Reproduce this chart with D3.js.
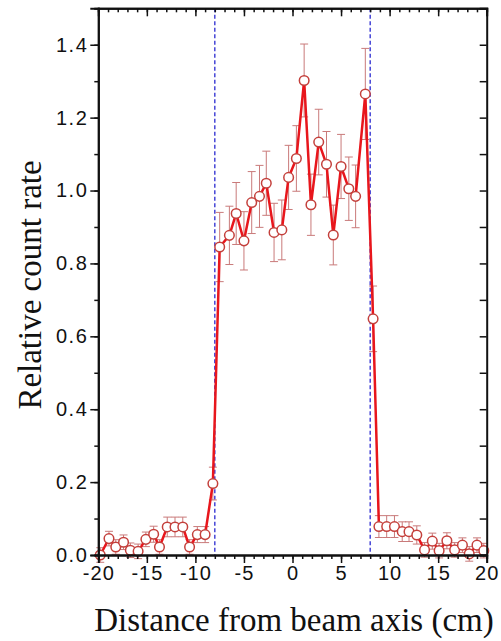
<!DOCTYPE html>
<html>
<head>
<meta charset="utf-8">
<script src="https://cdn.jsdelivr.net/npm/d3@7/dist/d3.min.js"></script>
<style>
    body { margin: 0; background: #fff; }
    svg text { font-family: "Liberation Sans", Arial, sans-serif; fill: #111; }
    .axis-title { font-family: "Liberation Serif", "Times New Roman", serif; font-size: 33px; }
    .tick-label { font-size: 20px; }
</style>
</head>
<body>
<div id="chart"></div>
<script>
// measured points: distance from beam axis (cm), relative count rate, error
const distance = [
    -19.8, -18.9, -18.2, -17.4, -16.7, -15.9, -15.1, -14.3, -13.7, -12.9, -12.1, -11.3, -10.6, -9.8, -9.0, -8.2,
    -7.5, -6.5, -5.8, -5.0, -4.2, -3.4, -2.7, -1.9, -1.1, -0.4, 0.4, 1.2, 1.9, 2.7, 3.5, 4.2, 5.0, 5.8, 6.5, 7.5, 8.3,
    8.9, 9.7, 10.5, 11.3, 12.0, 12.8, 13.6, 14.4, 15.1, 15.9, 16.7, 17.5, 18.2, 19.0, 19.7
];
const countRate = [
    0.000, 0.045, 0.022, 0.035, 0.013, 0.010, 0.043, 0.057, 0.022, 0.077, 0.077, 0.077, 0.022, 0.056, 0.056, 0.196,
    0.845, 0.877, 0.937, 0.862, 0.967, 0.984, 1.020, 0.885, 0.892, 1.036, 1.088, 1.302, 0.961, 1.133, 1.072, 0.878, 1.066, 1.005, 0.984, 1.265, 0.648,
    0.078, 0.078, 0.078, 0.064, 0.064, 0.055, 0.014, 0.038, 0.012, 0.039, 0.014, 0.027, 0.003, 0.027, 0.012
];
const rateError = [
    0.020, 0.020, 0.020, 0.020, 0.020, 0.020, 0.020, 0.022, 0.020, 0.027, 0.027, 0.027, 0.020, 0.022, 0.022, 0.045,
    0.095, 0.080, 0.085, 0.080, 0.085, 0.085, 0.088, 0.080, 0.082, 0.088, 0.090, 0.100, 0.084, 0.090, 0.090, 0.082, 0.088, 0.087, 0.086, 0.125, 0.090,
    0.030, 0.030, 0.030, 0.027, 0.027, 0.025, 0.020, 0.022, 0.020, 0.022, 0.020, 0.020, 0.020, 0.020, 0.020
];

// beam edges (dashed lines)
const beamEdges = [-8, 8];

// ticks
const xTicks = [-20, -15, -10, -5, 0, 5, 10, 15, 20];
const xMinorTicks = d3.range(-20, 20.5, 1);
const yTicks = [0, 0.2, 0.4, 0.6, 0.8, 1.0, 1.2, 1.4];
const yMinorTicks = d3.range(0, 1.51, 0.1);

const xTitle = "Distance from beam axis (cm)";
const yTitle = "Relative count rate";

let margin = {top: 8.3, left: 98.3, right: 14.3, bottom: 86},
    width = 501 - margin.left - margin.right,
    height = 641 - margin.top - margin.bottom;

let data = distance.map((d, i) => ({x: d, y: countRate[i], e: rateError[i]}));

let xScale = d3.scaleLinear().domain([-20, 20]).range([0, width]),
    yScale = d3.scaleLinear().domain([0, 1.5]).range([height, 0]);

let svg = d3.select('#chart')
    .append('svg')
    .attr('width', 501)
    .attr('height', 641);

let g = svg.append('g')
    .attr('transform', `translate(${margin.left},${margin.top})`);

// dashed beam edge lines
g.selectAll('.edge')
    .data(beamEdges)
    .enter()
    .append('line')
    .attr('x1', d => xScale(d))
    .attr('x2', d => xScale(d))
    .attr('y1', 0)
    .attr('y2', height)
    .attr('stroke', '#2a2ad0')
    .attr('stroke-width', 1.3)
    .attr('stroke-dasharray', '4,2.5');

// error bars
let errs = g.append('g')
    .attr('stroke', '#c97a7a')
    .attr('stroke-width', 1);

errs.selectAll('.ebar')
    .data(data)
    .enter()
    .append('line')
    .attr('x1', d => xScale(d.x))
    .attr('x2', d => xScale(d.x))
    .attr('y1', d => yScale(d.y - d.e))
    .attr('y2', d => yScale(d.y + d.e));

[1, -1].forEach(s => {
    errs.selectAll(null)
        .data(data)
        .enter()
        .append('line')
        .attr('x1', d => xScale(d.x) - 4)
        .attr('x2', d => xScale(d.x) + 4)
        .attr('y1', d => yScale(d.y + s * d.e))
        .attr('y2', d => yScale(d.y + s * d.e));
});

// the red line
g.append('path')
    .datum(data)
    .attr('fill', 'none')
    .attr('stroke', '#e8161c')
    .attr('stroke-width', 2.5)
    .attr('stroke-linejoin', 'round')
    .attr('d', d3.line().x(d => xScale(d.x)).y(d => yScale(d.y)));

// open circles
g.selectAll('.pt')
    .data(data)
    .enter()
    .append('circle')
    .attr('cx', d => xScale(d.x))
    .attr('cy', d => yScale(d.y))
    .attr('r', 4.8)
    .attr('fill', '#fff')
    .attr('stroke', '#c4403c')
    .attr('stroke-width', 1.5);

// axes: bottom and left outward, top and right inward
function styleAxis(sel) {
    sel.select('.domain').attr('stroke', '#111').attr('stroke-width', 2);
    sel.selectAll('.tick line').attr('stroke', '#111').attr('stroke-width', 1.5);
}

g.append('g')
    .attr('transform', `translate(0,${height})`)
    .call(d3.axisBottom(xScale).tickValues(xMinorTicks).tickSize(4).tickFormat(''))
    .call(styleAxis);
g.append('g')
    .attr('transform', `translate(0,${height})`)
    .call(d3.axisBottom(xScale).tickValues(xTicks).tickSize(8).tickPadding(3).tickFormat(d3.format('d')))
    .call(styleAxis)
    .call(a => a.selectAll('.tick text').attr('class', 'tick-label').attr('fill', '#111')
        .attr('letter-spacing', '1px')
        .text(d => d < 0 ? '-' + Math.abs(d) : d));

g.append('g')
    .call(d3.axisBottom(xScale).tickValues(xMinorTicks).tickSize(4).tickFormat(''))
    .call(styleAxis);
g.append('g')
    .call(d3.axisBottom(xScale).tickValues(xTicks).tickSize(8).tickFormat(''))
    .call(styleAxis);

g.append('g')
    .call(d3.axisLeft(yScale).tickValues(yMinorTicks).tickSize(4).tickFormat(''))
    .call(styleAxis);
g.append('g')
    .call(d3.axisLeft(yScale).tickValues(yTicks).tickSize(8).tickPadding(2).tickFormat(d3.format('.1f')))
    .call(styleAxis)
    .call(a => a.selectAll('.tick text').attr('class', 'tick-label').attr('fill', '#111')
        .attr('letter-spacing', '1.5px'));

g.append('g')
    .attr('transform', `translate(${width},0)`)
    .call(d3.axisLeft(yScale).tickValues(yMinorTicks).tickSize(7).tickFormat(''))
    .call(styleAxis);

// axis titles
svg.append('text')
    .attr('class', 'axis-title')
    .attr('x', 294)
    .attr('y', 631)
    .attr('text-anchor', 'middle')
    .text(xTitle);

svg.append('text')
    .attr('class', 'axis-title')
    .attr('transform', 'translate(41,285) rotate(-90)')
    .attr('text-anchor', 'middle')
    .text(yTitle);
</script>
</body>
</html>
